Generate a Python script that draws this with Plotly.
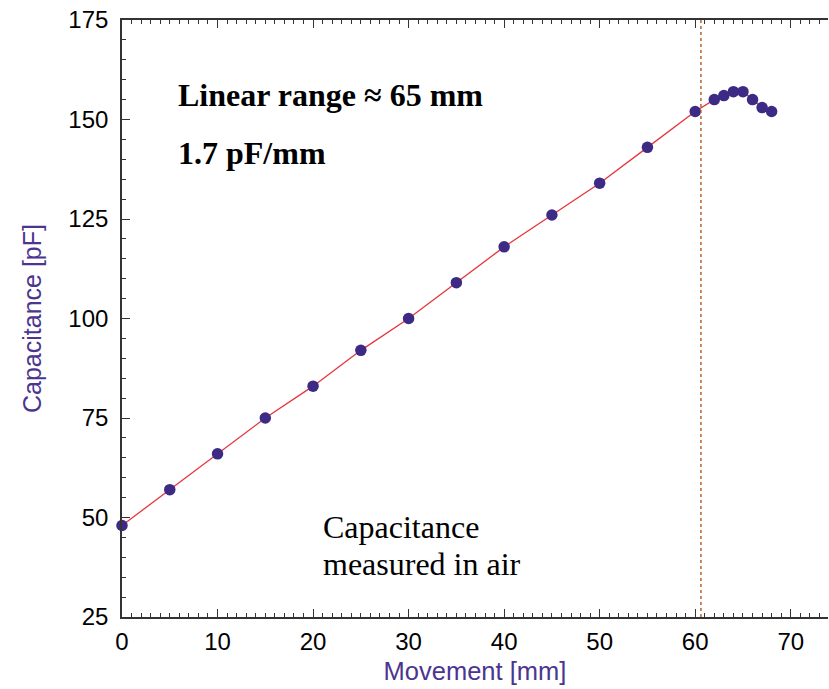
import plotly.graph_objects as go

movement = [0, 5, 10, 15, 20, 25, 30, 35, 40, 45, 50, 55, 60, 62, 63, 64, 65, 66, 67, 68]
capacitance = [48, 57, 66, 75, 83, 92, 100, 109, 118, 126, 134, 143, 152, 155, 156, 157, 157, 155, 153, 152]
linear_limit = 60.6
x_ticks = [0, 10, 20, 30, 40, 50, 60, 70]
y_ticks = [25, 50, 75, 100, 125, 150, 175]

fig = go.Figure()
fig.add_trace(go.Scatter(
    x=movement, y=capacitance, mode="lines+markers",
    line=dict(color="#e8343c", width=1.3),
    marker=dict(color="#3d2a85", size=11.5),
    showlegend=False, cliponaxis=False,
))

fig.add_shape(type="line", xref="x", yref="paper", x0=linear_limit, x1=linear_limit, y0=0, y1=1,
              line=dict(color="#b4561e", width=1.4, dash="dot"))

serif_font = dict(family="Liberation Serif", size=32, color="black")
fig.add_annotation(x=0.077, y=0.874, xref="paper", yref="paper", xanchor="left", yanchor="middle",
                   text="<b>Linear range ≈ 65 mm</b>", showarrow=False, font=serif_font)
fig.add_annotation(x=0.077, y=0.777, xref="paper", yref="paper", xanchor="left", yanchor="middle",
                   text="<b>1.7 pF/mm</b>", showarrow=False, font=serif_font)
fig.add_annotation(x=0.282, y=0.151, xref="paper", yref="paper", xanchor="left", yanchor="middle",
                   text="Capacitance", showarrow=False, font=serif_font)
fig.add_annotation(x=0.282, y=0.089, xref="paper", yref="paper", xanchor="left", yanchor="middle",
                   text="measured in air", showarrow=False, font=serif_font)

axis_common = dict(
    showline=True, linecolor="#333333", linewidth=1.6, ticks="inside", ticklen=8,
    tickcolor="#333333", tickwidth=1.3, showgrid=False, zeroline=False,
    tickfont=dict(family="Liberation Sans", size=24, color="black"),
)

fig.update_layout(
    width=829, height=689, margin=dict(l=122, r=1, t=20, b=72),
    plot_bgcolor="white", paper_bgcolor="white",
    xaxis=dict(range=[0, 73.9], tickvals=x_ticks, mirror="ticks", ticklabelstandoff=2,
               minor=dict(dtick=1, ticks="inside", ticklen=4, tickcolor="#333333", tickwidth=1, showgrid=False),
               title=dict(text="Movement [mm]", standoff=9,
                          font=dict(family="Liberation Sans", size=25.5, color="#4b3590")),
               **axis_common),
    yaxis=dict(range=[25, 175], tickvals=y_ticks, ticklabelstandoff=7,
               minor=dict(dtick=5, ticks="inside", ticklen=4, tickcolor="#333333", tickwidth=1, showgrid=False),
               title=dict(text="Capacitance [pF]", standoff=20,
                          font=dict(family="Liberation Sans", size=25, color="#4b3590")),
               **axis_common),
)

fig.write_html("out.html")
